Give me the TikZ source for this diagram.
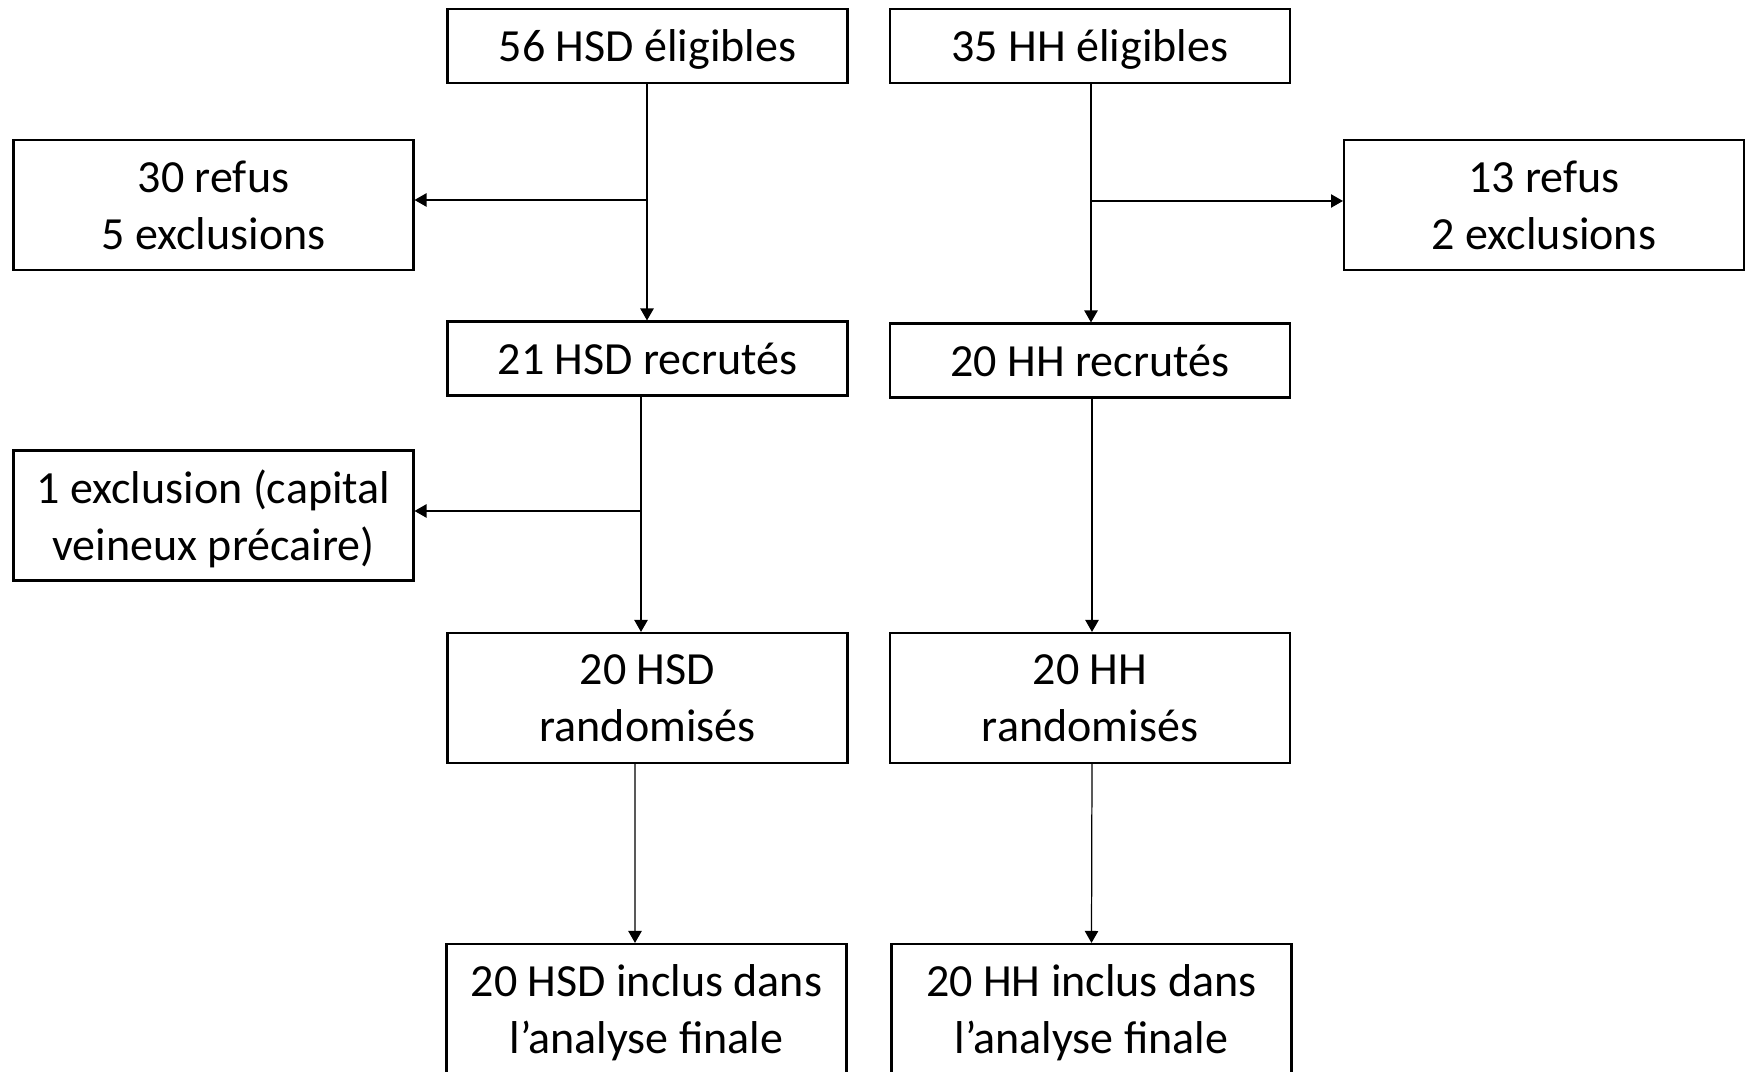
\documentclass[tikz,border=0pt]{standalone}
\usepackage{fontspec}
\setmainfont{Carlito}
\usetikzlibrary{arrows.meta,
                positioning}

\begin{document}
\begin{tikzpicture}%
    [box/.style = {draw, line width = 0.6pt, minimum width = 4cm, inner sep = 0pt,
                   align = center, text depth = 0pt,
                   font = \fontsize{13.1pt}{16.2pt}\selectfont},
     onebox/.style = {box, minimum height = 0.74cm},
     twobox/.style = {box, minimum height = 1.30cm},
     flow/.style = {-{Triangle[length=3.4pt, width=3.8pt]}, line width = 0.35pt}]
    \clip (0,0) rectangle (17.54,-10.72);

    % HSD column
    \node [onebox] (hsdElig) at (6.475,-0.46)  {56 HSD éligibles};
    \node [twobox] (hsdRefus) at (2.135,-2.05) {30 refus\\5 exclusions};
    \node [onebox] (hsdRecr) at (6.475,-3.585) {21 HSD recrutés};
    \node [twobox] (hsdExcl) at (2.135,-5.155) {1 exclusion (capital\\veineux précaire)};
    \node [twobox] (hsdRand) at (6.475,-6.98)  {20 HSD\\randomisés};
    \node [twobox] (hsdFin) at (6.465,-10.09)  {20 HSD inclus dans\\l’analyse finale};

    % HH column
    \node [onebox] (hhElig) at (10.90,-0.46)   {35 HH éligibles};
    \node [twobox] (hhRefus) at (15.44,-2.05)  {13 refus\\2 exclusions};
    \node [onebox] (hhRecr) at (10.90,-3.605)  {20 HH recrutés};
    \node [twobox] (hhRand) at (10.90,-6.98)   {20 HH\\randomisés};
    \node [twobox] (hhFin) at (10.915,-10.09)  {20 HH inclus dans\\l’analyse finale};

    \coordinate (hsdSplit) at (6.47,-2.00);
    \coordinate (hhSplit) at (10.91,-2.01);
    \coordinate (exclSplit) at (6.41,-5.11);

    \draw [flow] (hsdElig.south -| hsdSplit) -- (hsdRecr.north -| hsdSplit);
    \draw [flow] (hsdSplit) -- (hsdRefus.east |- hsdSplit);
    \draw [flow] (hsdRecr.south -| exclSplit) -- (hsdRand.north -| exclSplit);
    \draw [flow] (exclSplit) -- (hsdExcl.east |- exclSplit);
    \draw [flow] ([xshift=-0.125cm]hsdRand.south) -- ([xshift=-0.115cm]hsdFin.north);

    \draw [flow] (hhElig.south -| hhSplit) -- (hhRecr.north -| hhSplit);
    \draw [flow] (hhSplit) -- (hhRefus.west |- hhSplit);
    \draw [flow] ([xshift=0.02cm]hhRecr.south) -- ([xshift=0.02cm]hhRand.north);
    \draw [flow] ([xshift=0.02cm]hhRand.south) -- (hhFin.north);
\end{tikzpicture}
\end{document}
